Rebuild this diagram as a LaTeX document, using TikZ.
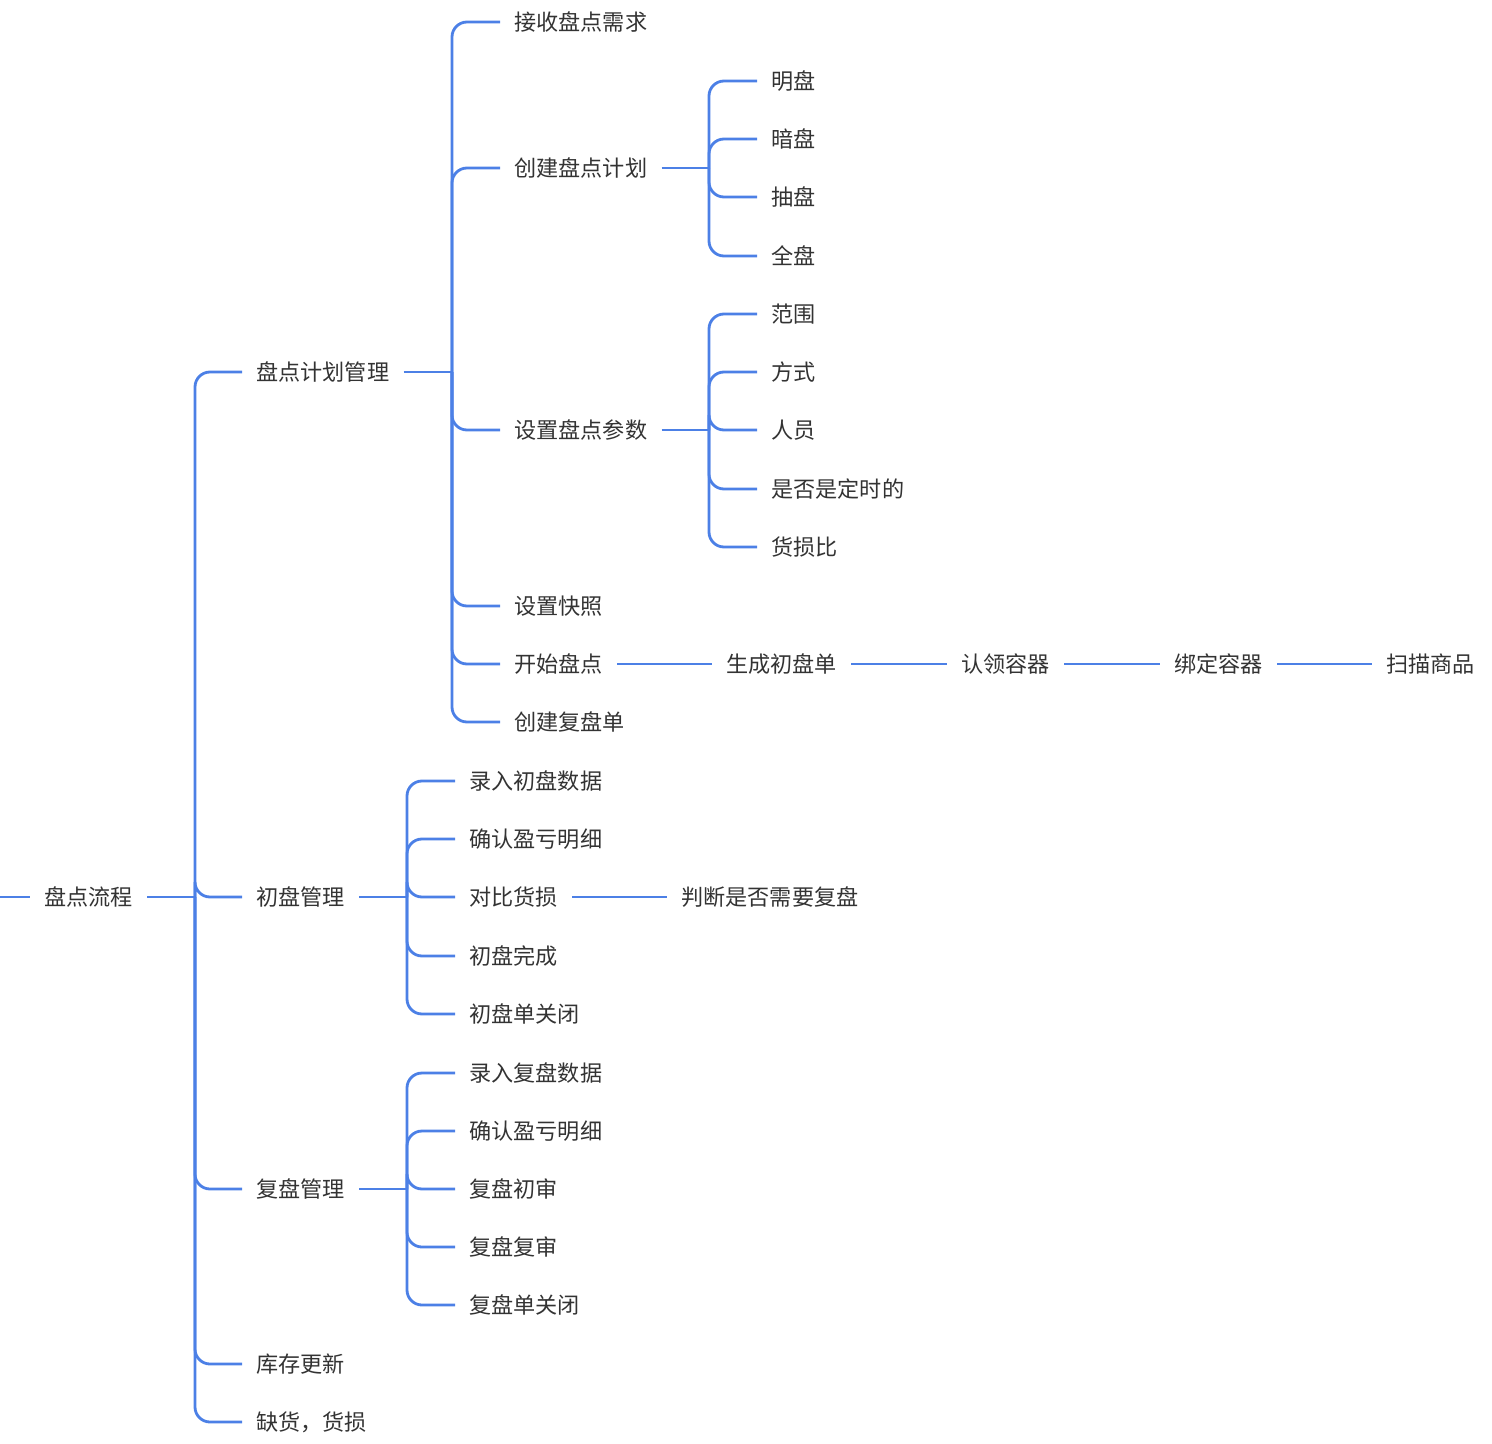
\documentclass[tikz,border=0pt]{standalone}
\usepackage{fontspec}
\setmainfont{Noto Sans CJK SC}
\usetikzlibrary{positioning}
\definecolor{mapblue}{HTML}{4C80E6}
\definecolor{maptext}{HTML}{333333}
\tikzset{
  item/.style = {anchor=west, inner xsep=0.28cm, inner ysep=2pt, text=maptext,
                 font=\fontsize{12.6}{15}\selectfont},
  link/.style = {draw=mapblue, line width=1.6pt, rounded corners=0.3cm},
}
\begin{document}
\begin{tikzpicture}[x=0.02cm,y=-0.02cm]
  \useasboundingbox (0,0) rectangle (1492,1444);

  % root and first level
  \coordinate (start) at (0,897);
  \node[item] (root) at (30,897) {盘点流程};
  \draw[link] (start) -- (root.west);
  \coordinate (t0) at (195,897);
  \draw[link] (root.east) -- (t0);
  \foreach \n/\t/\y in {plan/盘点计划管理/372, first/初盘管理/897, second/复盘管理/1189,
                        update/库存更新/1364, short/{缺货，货损}/1422} {
    \node[item] (\n) at (242,\y) {\t};
    \draw[link] (t0) |- (\n.west);
  }

  % plan management
  \coordinate (t1) at (452,372);
  \draw[link] (plan.east) -- (t1);
  \foreach \n/\t/\y in {recv/接收盘点需求/22, create/创建盘点计划/168, param/设置盘点参数/430,
                        snap/设置快照/606, begin/开始盘点/664, recheck/创建复盘单/722} {
    \node[item] (\n) at (500,\y) {\t};
    \draw[link] (t1) |- (\n.west);
  }

  \coordinate (t2) at (709,168);
  \draw[link] (create.east) -- (t2);
  \foreach \n/\t/\y in {ming/明盘/81, an/暗盘/139, chou/抽盘/197, quan/全盘/256} {
    \node[item] (\n) at (757,\y) {\t};
    \draw[link] (t2) |- (\n.west);
  }

  \coordinate (t3) at (709,430);
  \draw[link] (param.east) -- (t3);
  \foreach \n/\t/\y in {range/范围/314, mode/方式/372, staff/人员/430,
                        timed/是否是定时的/489, loss/货损比/547} {
    \node[item] (\n) at (757,\y) {\t};
    \draw[link] (t3) |- (\n.west);
  }

  % chain after start
  \node[item] (gen) at (712,664) {生成初盘单};
  \node[item] (claim) at (947,664) {认领容器};
  \node[item] (bind) at (1160,664) {绑定容器};
  \node[item] (scan) at (1372,664) {扫描商品};
  \draw[link] (begin) -- (gen);
  \draw[link] (gen) -- (claim);
  \draw[link] (claim) -- (bind);
  \draw[link] (bind) -- (scan);

  % first count
  \coordinate (t4) at (407,897);
  \draw[link] (first.east) -- (t4);
  \foreach \n/\t/\y in {fin/录入初盘数据/781, fconf/确认盈亏明细/839, cmp/对比货损/897,
                        fdone/初盘完成/956, fclose/初盘单关闭/1014} {
    \node[item] (\n) at (455,\y) {\t};
    \draw[link] (t4) |- (\n.west);
  }
  \node[item] (judge) at (667,897) {判断是否需要复盘};
  \draw[link] (cmp) -- (judge);

  % second count
  \coordinate (t5) at (407,1189);
  \draw[link] (second.east) -- (t5);
  \foreach \n/\t/\y in {sin/录入复盘数据/1073, sconf/确认盈亏明细/1131, sfirst/复盘初审/1189,
                        ssecond/复盘复审/1247, sclose/复盘单关闭/1305} {
    \node[item] (\n) at (455,\y) {\t};
    \draw[link] (t5) |- (\n.west);
  }
\end{tikzpicture}
\end{document}
